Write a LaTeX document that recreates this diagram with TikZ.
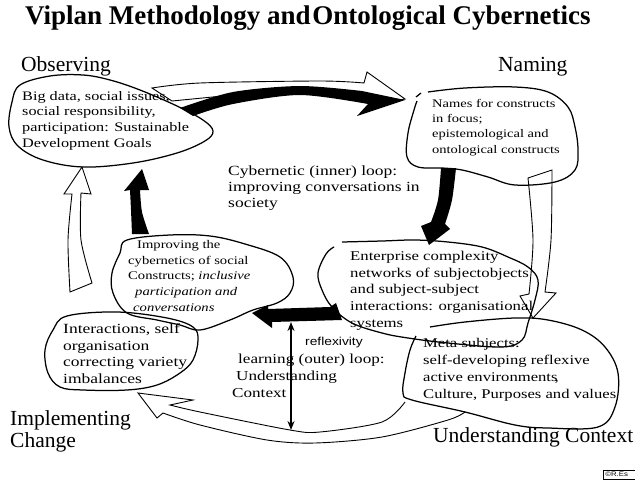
\documentclass[tikz,border=0pt]{standalone}
\usepackage{fontspec}
\setmainfont{Liberation Serif}
\newfontfamily\blobfont[FakeStretch=1.25]{Liberation Serif}
\newfontfamily\reflfont[FakeStretch=1.2]{Liberation Sans}
\usetikzlibrary{arrows.meta}
\tikzset{blob/.style={draw,line width=1.25pt,line join=round},
         fatarrow/.style={fill=black},
         hollow/.style={draw,line width=0.9pt,line join=miter},
         heading/.style={anchor=base west,inner sep=0pt,font=\fontsize{21.5}{22}\selectfont},
         blobtext/.style={anchor=north west,inner sep=0pt,align=left},
        }

\begin{document}
\begin{tikzpicture}[x=1pt,y=-1pt]
        \useasboundingbox (0,0) rectangle (635,482);
        \fill[white] (0,0) rectangle (635,482);
        \clip (0,0) rectangle (635,482);

        \node[anchor=base west,inner sep=0pt,font=\fontsize{27}{29}\bfseries](title)at(25,24){Viplan Methodology and\hspace{-5pt} Ontological Cybernetics};
        \node[heading](obs)at(21,71){Observing};
        \node[heading](nam)at(498,71){Naming};
        \node[heading,anchor=north west,align=left,font=\fontsize{21.5}{22}\selectfont](impl)at(10,410){Implementing\\Change};
        \node[heading](und)at(433,442){Understanding Context};

        % blobs
        \draw[blob] plot[smooth cycle,tension=0.6] coordinates {(20,85) (50,76) (83,75) (110,80) (140,90) (177,106) (203,120) (213,131) (205,141) (177,153) (133,163) (83,167) (43,160) (18,146) (9,127) (12,102)};
        \draw[blob] plot[smooth,tension=0.6] coordinates {(428,92) (465,88) (515,87) (548,92) (568,107) (575,127) (578,150) (575,170) (555,182) (515,185) (488,177) (462,170) (442,168) (418,167) (407,157) (408,133) (414,110) (417,101)};
        \draw[blob] (416,97)--(421,93);
        \draw[blob] plot[smooth cycle,tension=0.6] coordinates {(127,240) (170,235) (210,236) (245,244) (280,257) (293,277) (290,293) (277,303) (253,310) (230,320) (200,330) (180,325) (157,320) (127,313) (113,293) (112,273) (120,253)};
        \draw[blob] plot[smooth cycle,tension=0.6] coordinates {(67,316) (117,312) (167,318) (193,327) (198,340) (193,360) (180,373) (157,385) (127,390) (83,390) (60,387) (48,373) (45,350) (53,330)};
        \draw[blob] plot[smooth,tension=0.6] coordinates {(342,242) (382,241) (415,240) (448,242) (482,247) (508,257) (528,267) (538,280) (535,300) (528,323) (522,340) (502,347) (448,343) (408,338) (382,333) (352,323) (332,307) (322,290) (318,273) (326,254) (334,247)};
        \draw[blob] plot[smooth,tension=0.6] coordinates {(430,327) (465,322) (515,318) (548,320) (582,330) (605,347) (618,373) (615,407) (598,427) (548,428) (515,425) (465,412) (412,400) (403,393) (405,373) (410,350) (416,336)};

        % hollow arrows
        \draw[hollow,fill=white] (152,88) -- plot[smooth] coordinates {(152,88) (200,83) (320,81) (364,83)} -- (367,72) -- (405,99) -- (380,104) -- (320,90) -- (233,95) -- (172,101) -- cycle;
        \draw[hollow] (82,167) -- (91,194) -- (81,193) -- plot[smooth] coordinates {(81,193) (81,240) (92,283)} -- (70,292) -- plot[smooth] coordinates {(70,292) (68,240) (72,194)} -- (64,194) -- cycle;
        \draw[hollow] (552,170) -- plot[smooth] coordinates {(552,170) (551,240) (545,292)} -- (556,293) -- (533,318) -- (520,296) -- (529,294) -- plot[smooth] coordinates {(529,294) (533,240) (528,178)} -- cycle;
        \draw[hollow] plot[smooth] coordinates {(405,402) (382,422) (320,432) (290,430) (200,412) (170,405)} -- (193,400) -- (138,393) -- (157,418) -- (163,413) -- plot[smooth] coordinates {(163,413) (200,425) (267,440) (315,443) (382,437) (448,420) (465,412)};

        % black arrows
        \fill[fatarrow] plot[smooth] coordinates {(180,108) (233,92) (300,86) (362,91)} -- (405,100) -- (357,116) -- (368,104) -- plot[smooth] coordinates {(368,104) (300,95) (233,104) (193,116)} -- cycle;
        \fill[fatarrow] (441,168) -- (456,168) -- plot[smooth] coordinates {(456,168) (452,200) (445,224)} -- (450,229) -- (429,245) -- (421,226) -- (431,222) -- plot[smooth] coordinates {(431,222) (438,200) (441,168)} -- cycle;
        \fill[fatarrow] (252,313) -- (268,305) -- (268,309) -- (330,307) -- (336,303) -- (342,320) -- (272,322) -- (272,328) -- cycle;
        \fill[fatarrow] (132,234) -- plot[smooth] coordinates {(132,234) (131,210) (130,190)} -- (124,191) -- (142,169) -- (149,190) -- (140,190) -- plot[smooth] coordinates {(140,190) (142,212) (149,234)} -- cycle;

        % reflexivity
        \coordinate(rtop)at(291,322);
        \coordinate(rbot)at(291,430);
        \draw[line width=1.6pt,{Stealth[length=9pt,width=7pt]}-{Stealth[length=9pt,width=7pt]}](rtop)--(rbot);
        \node[anchor=base west,inner sep=0pt,font=\fontsize{11.5}{13}\reflfont](refl)at(305,345){reflexivity};

        % texts
        \node[blobtext,font=\fontsize{13}{15.7}\blobfont](bigdata)at(22,91){Big data, social issues,\\social responsibility,\\participation: Sustainable\\Development Goals};
        \node[blobtext,font=\fontsize{11.6}{15.3}\blobfont](names)at(432,99){Names for constructs\\in focus;\\epistemological and\\ontological constructs};
        \node[blobtext,font=\fontsize{14}{16}\blobfont](inner)at(228,165.3){Cybernetic (inner) loop:\\improving conversations in\\society};
        \node[blobtext,font=\fontsize{11.7}{15.75}\blobfont](improv)at(128,240){\hspace{9pt}Improving the\\cybernetics of social\\Constructs; \textit{inclusive}\\\hspace{7pt}\textit{participation and}\\\hspace{5pt}\textit{conversations}};
        \node[blobtext,font=\fontsize{14}{16.7}\blobfont](interact)at(63,323.3){Interactions, self\\organisation\\correcting variety\\imbalances};
        \node[blobtext,font=\fontsize{13.4}{16.7}\blobfont](enterp)at(350,250.8){Enterprise complexity\\networks of subjectobjects\\and subject-subject\\interactions: organisational\\systems};
        \node[blobtext,font=\fontsize{13.3}{17}\blobfont](meta)at(423,337.8){Meta subjects:\\self-developing reflexive\\active environments\kern-3pt,\\Culture, Purposes and values};
        \node[blobtext,font=\fontsize{13.7}{17}\blobfont](outer)at(232,353.5){\hspace{6pt}learning (outer) loop:\\\hspace{4pt}Understanding\\Context};

        \node[draw,line width=0.7pt,anchor=north west,inner sep=2pt,text width=40pt,align=left,font=\fontsize{6.5}{8}\reflfont](copy)at(603,470){©R.Es};
    \end{tikzpicture}
\end{document}
